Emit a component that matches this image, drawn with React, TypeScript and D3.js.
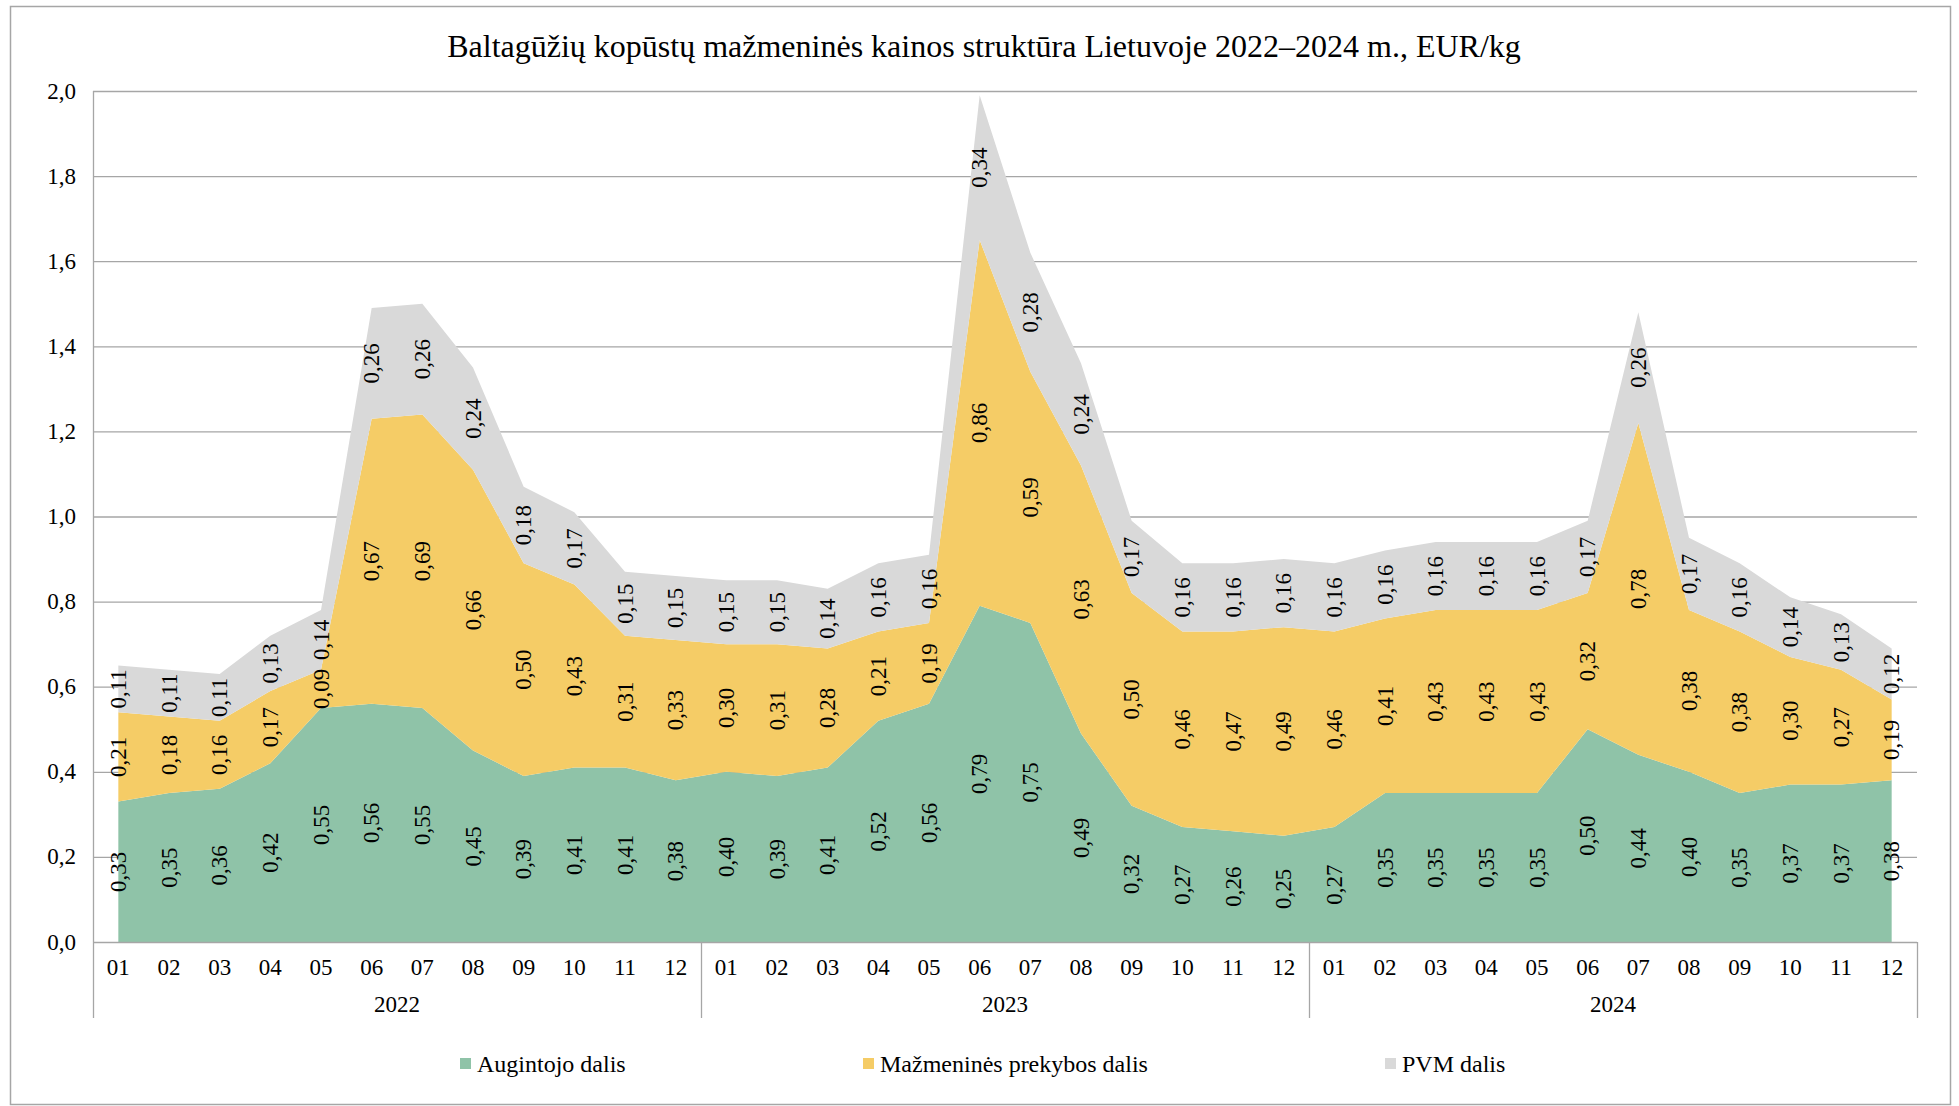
import React from "react";
import * as d3 from "d3";

const months = ["01", "02", "03", "04", "05", "06", "07", "08", "09", "10", "11", "12"];
const years = ["2022", "2023", "2024"];

const grower = [
  0.33, 0.35, 0.36, 0.42, 0.55, 0.56, 0.55, 0.45, 0.39, 0.41, 0.41, 0.38,
  0.40, 0.39, 0.41, 0.52, 0.56, 0.79, 0.75, 0.49, 0.32, 0.27, 0.26, 0.25,
  0.27, 0.35, 0.35, 0.35, 0.35, 0.50, 0.44, 0.40, 0.35, 0.37, 0.37, 0.38,
];
const retail = [
  0.21, 0.18, 0.16, 0.17, 0.09, 0.67, 0.69, 0.66, 0.50, 0.43, 0.31, 0.33,
  0.30, 0.31, 0.28, 0.21, 0.19, 0.86, 0.59, 0.63, 0.50, 0.46, 0.47, 0.49,
  0.46, 0.41, 0.43, 0.43, 0.43, 0.32, 0.78, 0.38, 0.38, 0.30, 0.27, 0.19,
];
const vat = [
  0.11, 0.11, 0.11, 0.13, 0.14, 0.26, 0.26, 0.24, 0.18, 0.17, 0.15, 0.15,
  0.15, 0.15, 0.14, 0.16, 0.16, 0.34, 0.28, 0.24, 0.17, 0.16, 0.16, 0.16,
  0.16, 0.16, 0.16, 0.16, 0.16, 0.17, 0.26, 0.17, 0.16, 0.14, 0.13, 0.12,
];
const seriesNames = ["Augintojo dalis", "Mažmeninės prekybos dalis", "PVM dalis"];
const yTicks = [0, 0.2, 0.4, 0.6, 0.8, 1.0, 1.2, 1.4, 1.6, 1.8, 2.0];
const title = "Baltagūžių kopūstų mažmeninės kainos struktūra Lietuvoje 2022–2024 m., EUR/kg";

const W = 1959;
const H = 1106;
const FONT = "Liberation Serif, Times New Roman, serif";
const COLORS = ["#8FC3A8", "#F5CC66", "#D9D9D9"];
const GRID = "#A6A6A6";

const fmt = (v: number) => v.toFixed(2).replace(".", ",");
const fmt1 = (v: number) => v.toFixed(1).replace(".", ",");

export default function App() {
  const left = 93, right = 1917, top = 91, bottom = 942;
  const n = months.length * years.length;
  const idx = d3.range(n);
  const x = d3.scaleBand<number>().domain(idx).range([left, right]).padding(0);
  const bw = x.bandwidth();
  const cx = (i: number) => (x(i) as number) + bw / 2;
  const y = d3.scaleLinear().domain([0, 2]).range([bottom, top]);

  const rows = idx.map((i) => ({ i, a: grower[i], b: retail[i], c: vat[i] }));
  const stack = d3.stack<any>().keys(["a", "b", "c"]);
  const layers = stack(rows);
  const area = d3
    .area<any>()
    .x((d) => cx(d.data.i))
    .y0((d) => y(d[0]))
    .y1((d) => y(d[1]))
    .curve(d3.curveLinear);

  const legendX = [460, 863, 1385];

  return (
    <svg
      width={W}
      height={H}
      style={{ position: "absolute", left: 0, top: 0, display: "block", background: "#fff" }}
      fontFamily={FONT}
    >
      <rect x={10.5} y={6.5} width={1940} height={1098} fill="#fff" stroke="#A6A6A6" strokeWidth={1.5} />
      <text x={984} y={57} fontSize={32} textAnchor="middle" fill="#000">
        {title}
      </text>

      {yTicks.map((t) => (
        <g key={t}>
          {t > 0 && (
            <line x1={left} x2={right} y1={y(t) + 0.5} y2={y(t) + 0.5} stroke={GRID} strokeWidth={1.3} />
          )}
          <text x={76} y={y(t)} fontSize={23} textAnchor="end" dominantBaseline="central" fill="#000">
            {fmt1(t)}
          </text>
        </g>
      ))}

      {layers.map((layer, k) => (
        <path key={k} d={area(layer as any) as string} fill={COLORS[k]} />
      ))}

      <line x1={left + 0.5} x2={left + 0.5} y1={top} y2={bottom} stroke={GRID} strokeWidth={1.3} />
      <line x1={left} x2={right} y1={bottom + 0.5} y2={bottom + 0.5} stroke={GRID} strokeWidth={1.5} />
      {d3.range(years.length + 1).map((g) => {
        const xx = g === years.length ? right : (x(g * months.length) as number);
        return (
          <line key={g} x1={xx + 0.5} x2={xx + 0.5} y1={bottom} y2={1018} stroke={GRID} strokeWidth={1.3} />
        );
      })}

      {idx.map((i) => (
        <text key={i} x={cx(i)} y={967} fontSize={23} textAnchor="middle" dominantBaseline="central" fill="#000">
          {months[i % months.length]}
        </text>
      ))}
      {years.map((yr, g) => {
        const x0 = x(g * months.length) as number;
        return (
          <text key={yr} x={x0 + (bw * months.length) / 2} y={1004} fontSize={23} textAnchor="middle" dominantBaseline="central" fill="#000">
            {yr}
          </text>
        );
      })}

      {layers.map((layer, k) =>
        layer.map((d: any, i: number) => {
          const v = [grower, retail, vat][k][i];
          const my = y((d[0] + d[1]) / 2);
          return (
            <text
              key={`${k}-${i}`}
              transform={`translate(${cx(i)},${my}) rotate(-90)`}
              fontSize={23}
              textAnchor="middle"
              dominantBaseline="central"
              fill="#000"
            >
              {fmt(v)}
            </text>
          );
        })
      )}

      {seriesNames.map((s, k) => (
        <g key={s}>
          <rect x={legendX[k]} y={1058} width={11} height={11} fill={COLORS[k]} />
          <text x={legendX[k] + 17} y={1064} fontSize={24} dominantBaseline="central" fill="#000">
            {s}
          </text>
        </g>
      ))}
    </svg>
  );
}
